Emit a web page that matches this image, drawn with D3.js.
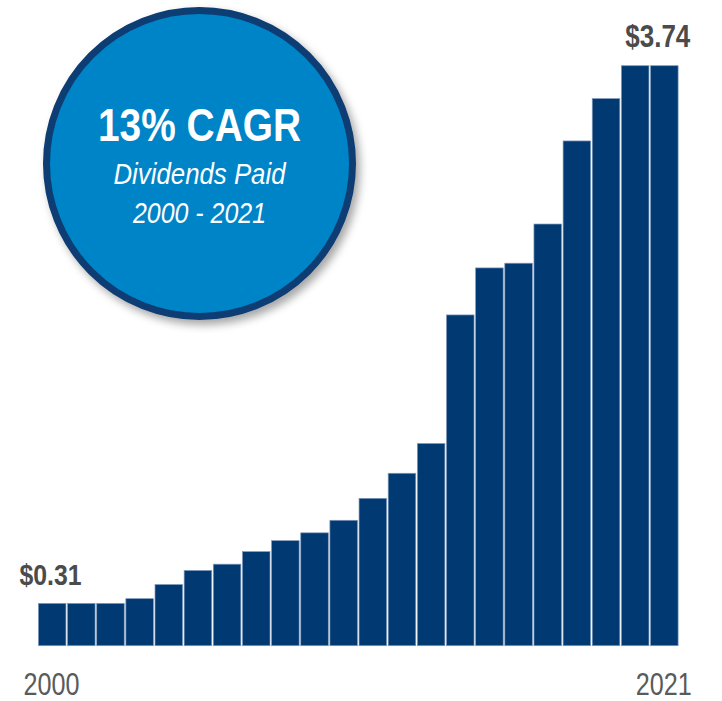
<!DOCTYPE html>
<html>
<head>
<meta charset="utf-8">
<script src="https://cdn.jsdelivr.net/npm/d3@7"></script>
<style>
  body { margin: 0; background: #fff; }
  svg { display: block; }
  text { font-family: "Liberation Sans Narrow", "Arial Narrow", "Liberation Sans", Arial, sans-serif; }
</style>
</head>
<body>
<script>
// dividends paid per share, 2000 - 2021
var years = d3.range(2000, 2022);
var dividends = [0.31, 0.31, 0.31, 0.34, 0.43, 0.52, 0.56, 0.64, 0.71, 0.76, 0.84,
                 0.98, 1.14, 1.33, 2.15, 2.45, 2.48, 2.73, 3.26, 3.53, 3.74, 3.74];
var badgeLines = ["13% CAGR", "Dividends Paid", "2000 - 2021"];

var width = 722, height = 701;

var svg = d3.select("body").append("svg")
    .attr("width", width)
    .attr("height", height);

// no narrow font installed, so squeeze text to the widths in the original
function narrow(sel, w) {
  return sel.attr("textLength", w).attr("lengthAdjust", "spacingAndGlyphs");
}

// drop shadow for the badge
var defs = svg.append("defs");
var f = defs.append("filter").attr("id", "shadow")
    .attr("x", "-20%").attr("y", "-20%").attr("width", "140%").attr("height", "140%");
f.append("feDropShadow")
    .attr("dx", 4).attr("dy", 5).attr("stdDeviation", 4)
    .attr("flood-color", "#000").attr("flood-opacity", 0.35);

// scales
var x = d3.scaleBand()
    .domain(years)
    .range([38, 679.3])
    .padding(0);

var y = d3.scaleLinear()
    .domain([0.04, 3.74])
    .range([645.7, 65.7]);

// bars
svg.append("g").attr("id", "bars")
  .selectAll("rect")
  .data(dividends)
  .enter().append("rect")
    .attr("x", function(d, i) { return x(years[i]) + 0.4; })
    .attr("width", x.bandwidth() - 1.6)
    .attr("y", function(d) { return y(d); })
    .attr("height", function(d) { return y.range()[0] - y(d); })
    .attr("fill", "#013a72")
    .attr("stroke", "#7f98ba")
    .attr("stroke-width", 0.7);

// first / last value labels
var first = 0, last = dividends.length - 1;
svg.append("text")
    .attr("x", x(years[first]) + x.bandwidth() / 2 - 2)
    .attr("y", y(dividends[first]) - 18)
    .attr("text-anchor", "middle")
    .attr("font-size", 30)
    .attr("font-weight", "bold")
    .attr("fill", "#4b4b4b")
    .text("$" + dividends[first].toFixed(2))
    .call(narrow, 62);

svg.append("text")
    .attr("x", x(years[last]) + x.bandwidth() + 11)
    .attr("y", y(dividends[last]) - 19)
    .attr("text-anchor", "end")
    .attr("font-size", 31)
    .attr("font-weight", "bold")
    .attr("fill", "#4b4b4b")
    .text("$" + dividends[last].toFixed(2))
    .call(narrow, 65);

// year labels at both ends
svg.selectAll(".year")
  .data([years[first], years[last]])
  .enter().append("text")
    .attr("class", "year")
    .attr("x", function(d) { return x(d) + x.bandwidth() / 2 - 1; })
    .attr("y", 695)
    .attr("text-anchor", "middle")
    .attr("font-size", 31)
    .attr("fill", "#5a5a5a")
    .attr("textLength", 56)
    .attr("lengthAdjust", "spacingAndGlyphs")
    .text(function(d) { return d; });

// CAGR badge
var badge = svg.append("g").attr("transform", "translate(199.5,163.5)");
badge.append("circle")
    .attr("r", 153)
    .attr("fill", "#0084c8")
    .attr("stroke", "#0b3c72")
    .attr("stroke-width", 7)
    .attr("filter", "url(#shadow)");

badge.append("text")
    .attr("y", -22.5)
    .attr("text-anchor", "middle")
    .attr("font-size", 46)
    .attr("font-weight", "bold")
    .attr("fill", "#fff")
    .text(badgeLines[0])
    .call(narrow, 203);

badge.append("text")
    .attr("y", 20.8)
    .attr("text-anchor", "middle")
    .attr("font-size", 30)
    .attr("font-style", "italic")
    .attr("fill", "#fff")
    .text(badgeLines[1])
    .call(narrow, 172);

badge.append("text")
    .attr("y", 59.8)
    .attr("text-anchor", "middle")
    .attr("font-size", 30)
    .attr("font-style", "italic")
    .attr("fill", "#fff")
    .text(badgeLines[2])
    .call(narrow, 133);
</script>
</body>
</html>
